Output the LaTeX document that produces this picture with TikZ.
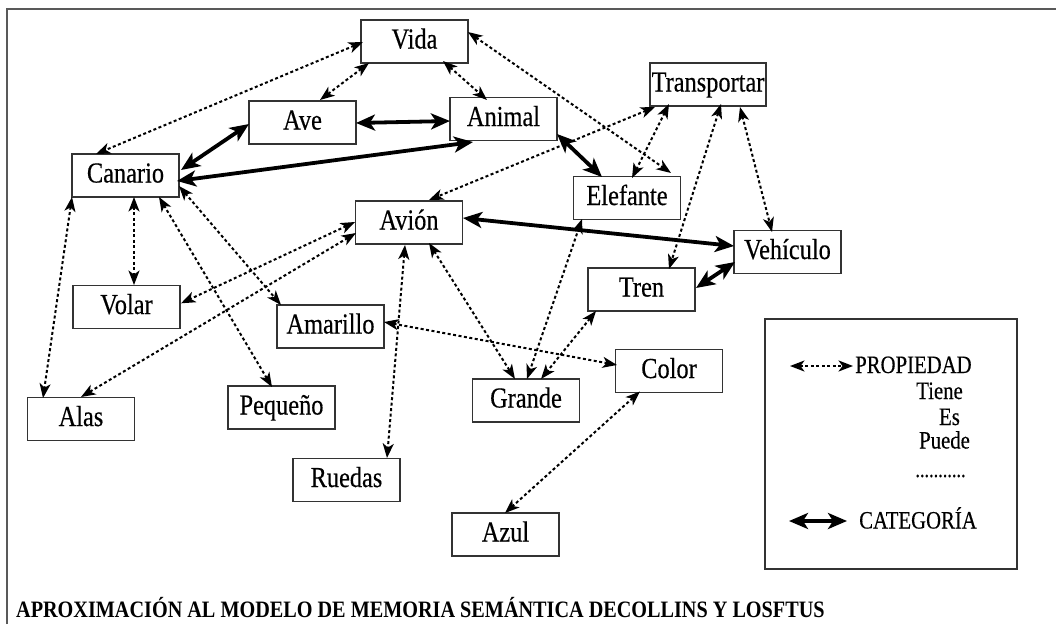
\documentclass[tikz,border=0pt]{standalone}
\usepackage{fontspec}
\setmainfont{Liberation Serif}
\newfontfamily\nfont{Liberation Serif}[FakeStretch=0.84,FakeBold=0.4]
\newfontfamily\lfont{Liberation Serif}[FakeStretch=0.83,FakeBold=0.3]
\newfontfamily\cfont{Liberation Serif}[FakeStretch=0.86]
\usetikzlibrary{arrows.meta,calc}
\begin{document}
\begin{tikzpicture}[x=1pt,y=-1pt,
  box/.style={draw=black!80,line width=1.3pt,fill=white,minimum width=107pt,minimum height=43pt,inner sep=0pt,
    text height=19pt,text depth=5pt,font=\nfont\fontsize{29}{31}\selectfont},
  ptip/.tip={Stealth[length=14.5pt,width=11pt,inset=4pt]},
  ctip/.tip={Stealth[length=19pt,width=16pt,inset=5pt]},
  prop/.style={line width=2pt,dash pattern=on 3pt off 2.5pt,ptip-ptip},
  cat/.style={line width=3.8pt,ctip-ctip},
  legtext/.style={inner sep=0pt,font=\lfont\fontsize{25}{27}\selectfont},
]
\useasboundingbox (0,0) rectangle (1056,624);
\draw[black!65,line width=1.5pt] (7,624) -- (7,9) -- (1056,9);

% nodes
\node[box] (vida) at (414.5,41.5) {Vida};
\node[box] (ave) at (302.5,122.5) {Ave};
\node[box] (animal) at (503.5,119) {Animal};
\node[box] (canario) at (125.5,175.5) {Canario};
\node[box] (avion) at (409,222.5) {Avión};
\node[box] (volar) at (126.5,307) {Volar};
\node[box] (amarillo) at (330.5,326.5) {Amarillo};
\node[box] (alas) at (81,419) {Alas};
\node[box] (pequeno) at (281.5,407.5) {Pequeño};
\node[box] (ruedas) at (346.5,480) {Ruedas};
\node[box] (grande) at (526,400.5) {Grande};
\node[box] (azul) at (505.5,534.5) {Azul};
\node[box] (color) at (669,371) {Color};
\node[box] (tren) at (641.5,289.5) {Tren};
\node[box] (elefante) at (627,198) {Elefante};
\node[box,minimum width=116pt] (transportar) at (708,84.5) {Transportar};
\node[box] (vehiculo) at (787.5,252) {Vehículo};

% category links
\draw[cat] ($(canario)+(55.5,-5.5)$) -- ($(ave)+(-53.5,1.5)$);
\draw[cat] ($(ave)+(53.5,0.5)$) -- ($(animal)+(-53.5,2)$);
\draw[cat] ($(canario)+(51.5,5.5)$) -- ($(animal)+(-30.5,23)$);
\draw[cat] ($(animal)+(53.5,15)$) -- ($(elefante)+(-25,-21)$);
\draw[cat] ($(avion)+(54,-4.5)$) -- ($(vehiculo)+(-53.5,-6)$);
\draw[cat] ($(tren)+(54.5,-1.5)$) -- ($(vehiculo)+(-52.5,10)$);

% property links
\draw[prop] ($(vida)+(-51.5,0.5)$) -- ($(canario)+(-29.5,-21.5)$);
\draw[prop] ($(vida)+(-45.5,21.5)$) -- ($(ave)+(17.5,-22.5)$);
\draw[prop] ($(vida)+(28.5,19.5)$) -- ($(animal)+(-16.5,-19)$);
\draw[prop] ($(vida)+(53.5,-9.5)$) -- ($(elefante)+(44,-25)$);
\draw[prop] ($(transportar)+(-53,22.5)$) -- ($(avion)+(20,-22.5)$);
\draw[prop] ($(transportar)+(-39,19.5)$) -- ($(elefante)+(5,-20)$);
\draw[prop] ($(transportar)+(13,19.5)$) -- ($(tren)+(27.5,-20.5)$);
\draw[prop] ($(transportar)+(32,22.5)$) -- ($(vehiculo)+(-15.5,-20)$);
\draw[prop] ($(canario)+(8.5,21.5)$) -- ($(volar)+(7.5,-22)$);
\draw[prop] ($(canario)+(-53.5,21.5)$) -- ($(alas)+(-38,-21)$);
\draw[prop] ($(canario)+(33.5,21.5)$) -- ($(pequeno)+(-9.5,-20.5)$);
\draw[prop] ($(canario)+(53.5,10.5)$) -- ($(amarillo)+(-49.5,-21.5)$);
\draw[prop] ($(avion)+(-54,-0.5)$) -- ($(volar)+(54.5,-3.7)$);
\draw[prop] ($(avion)+(-53,10.5)$) -- ($(alas)+(0,-22)$);
\draw[prop] ($(avion)+(-4,22.5)$) -- ($(ruedas)+(40.5,-22)$);
\draw[prop] ($(avion)+(20,20.5)$) -- ($(grande)+(-11,-21.5)$);
\draw[prop] ($(amarillo)+(53.5,-4.5)$) -- ($(color)+(-52,-6)$);
\draw[prop] ($(elefante)+(-45,21)$) -- ($(grande)+(1,-21.5)$);
\draw[prop] ($(tren)+(-45.5,21.5)$) -- ($(grande)+(15,-21.5)$);
\draw[prop] ($(color)+(-29,20.5)$) -- ($(azul)+(-0.5,-21.5)$);

% legend
\node[draw=black!80,line width=1.3pt,minimum width=252pt,minimum height=250pt,inner sep=0pt] (legend) at (891,444) {};
\coordinate (pa) at (790,366);
\coordinate (pb) at (853,366);
\draw[prop] (pa) -- (pb);
\node[legtext,anchor=base west] (propiedad) at (855,373) {PROPIEDAD};
\node[legtext,anchor=base] (tiene) at (939.5,399) {Tiene};
\node[legtext,anchor=base] (es) at (949.5,425) {Es};
\node[legtext,anchor=base] (puede) at (944.5,448.5) {Puede};
\node[legtext,anchor=base,font=\lfont\fontsize{22}{24}\selectfont] (dots) at (940.5,477) {...........};
\coordinate (ca) at (789,521);
\coordinate (cb) at (847,521);
\draw[cat] (ca) -- (cb);
\node[legtext,anchor=base west] (categoria) at (859,528.5) {CATEGORÍA};

% caption
\node[anchor=base west,inner sep=0pt,font=\cfont\bfseries\fontsize{23.5}{25}\selectfont] (caption) at (16,617.5)
  {APROXIMACIÓN AL MODELO DE MEMORIA SEMÁNTICA DECOLLINS Y LOSFTUS};
\end{tikzpicture}
\end{document}
